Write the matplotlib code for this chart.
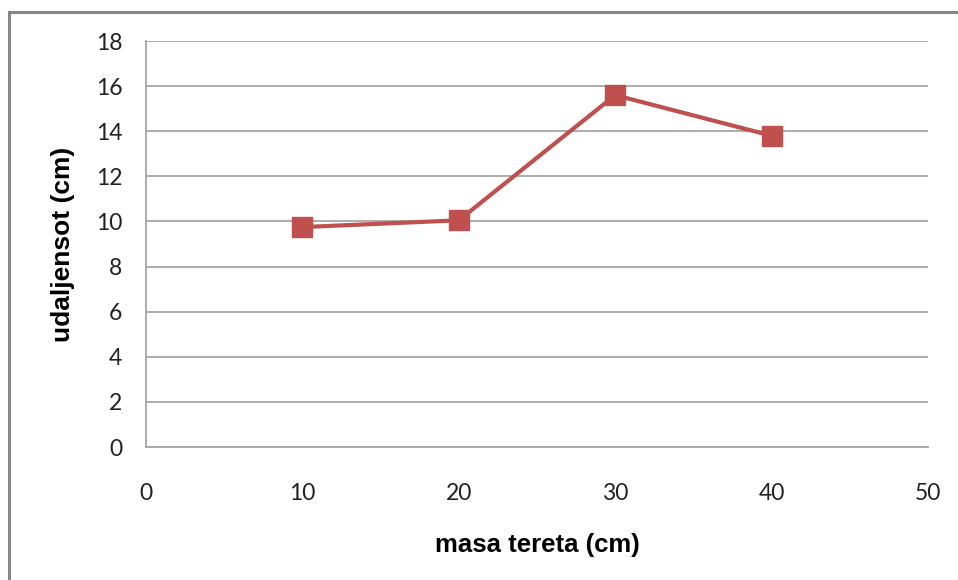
import matplotlib
matplotlib.use("Agg")
import matplotlib.pyplot as plt
from matplotlib.patches import Rectangle

masa = [10, 20, 30, 40]
udaljenost = [9.75, 10.05, 15.6, 13.8]
x_ticks = [0, 10, 20, 30, 40, 50]
y_ticks = [0, 2, 4, 6, 8, 10, 12, 14, 16, 18]

plt.rcParams['font.family'] = ['Lato', 'DejaVu Sans']

W, H = 958, 580
fig = plt.figure(figsize=(W / 100, H / 100), dpi=100)
ax = fig.add_axes([146 / W, 1 - 447 / H, (928 - 146) / W, (447 - 41) / H])

grid_c = '#A6A6A6'
ax.plot(masa, udaljenost, color='#C0504D', linewidth=3, marker='s',
        markersize=14, markerfacecolor='#C0504D', markeredgecolor='#C0504D',
        zorder=3, clip_on=False)

ax.set_xlim(0, 50)
ax.set_ylim(0, 18)
ax.set_xticks(x_ticks)
ax.set_yticks(y_ticks)
ax.yaxis.grid(True, color=grid_c, linewidth=1.3)
ax.set_axisbelow(True)
for s in ['top', 'right']:
    ax.spines[s].set_visible(False)
for s in ['left', 'bottom']:
    ax.spines[s].set_color(grid_c)
    ax.spines[s].set_linewidth(1.3)
ax.tick_params(axis='both', length=0, labelsize=16.5, colors='#222222')
ax.tick_params(axis='y', pad=17)
ax.tick_params(axis='x', pad=26)

lab_font = dict(family=['Liberation Sans', 'DejaVu Sans'], fontsize=18.5,
                fontweight='bold')
ax.set_xlabel('masa tereta (cm)', labelpad=21, **lab_font)
ax.set_ylabel('udaljensot (cm)', labelpad=15, fontsize=19,
              family=['Liberation Sans', 'DejaVu Sans'], fontweight='bold')

fig.patches.append(Rectangle((8.5 / W, -0.1), 1.2, 1 - 12 / H + 0.1,
                             transform=fig.transFigure, fill=False,
                             edgecolor='#868686', linewidth=2.2))

fig.savefig('out.png', dpi=100)
